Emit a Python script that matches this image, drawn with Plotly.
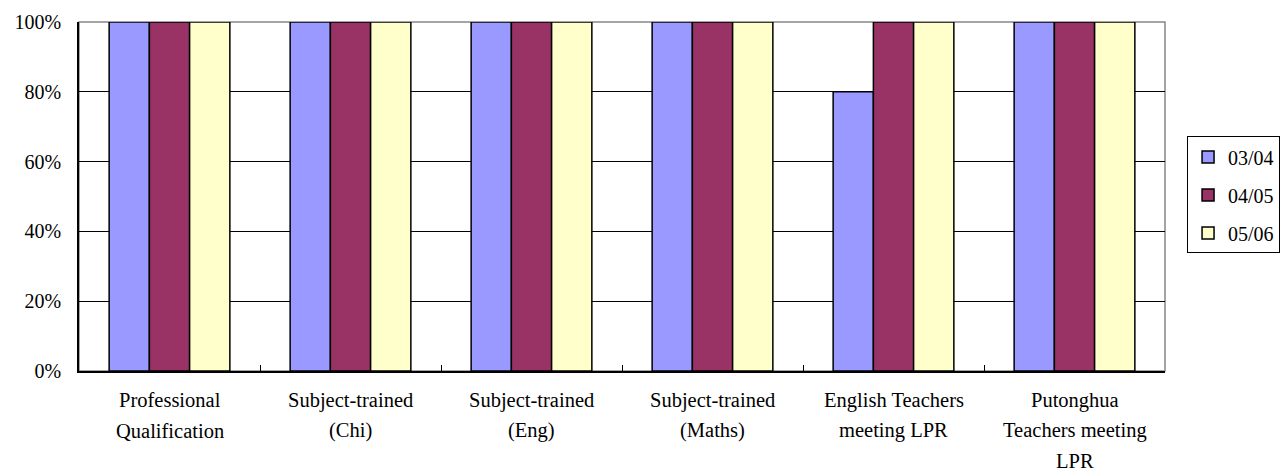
import plotly.graph_objects as go

categories = ["Professional Qualification", "Subject-trained (Chi)", "Subject-trained (Eng)",
              "Subject-trained (Maths)", "English Teachers meeting LPR",
              "Putonghua Teachers meeting LPR"]
category_lines = [
    ["Professional", "Qualification"],
    ["Subject-trained", "(Chi)"],
    ["Subject-trained", "(Eng)"],
    ["Subject-trained", "(Maths)"],
    ["English Teachers", "meeting LPR"],
    ["Putonghua", "Teachers meeting", "LPR"],
]
series_names = ["03/04", "04/05", "05/06"]
values_0304 = [100, 100, 100, 100, 80, 100]
values_0405 = [100, 100, 100, 100, 100, 100]
values_0506 = [100, 100, 100, 100, 100, 100]
y_ticks = [0, 20, 40, 60, 80, 100]
y_tick_labels = ["0%", "20%", "40%", "60%", "80%", "100%"]

colors = ["#9999FF", "#993366", "#FFFFCC"]
FONT = "Liberation Serif, Times New Roman, serif"

fig = go.Figure()
for i, (name, vals) in enumerate(zip(series_names, [values_0304, values_0405, values_0506])):
    fig.add_trace(go.Bar(
        x=categories, y=vals, name=name, legendgroup=name,
        marker=dict(color=colors[i], line=dict(color="black", width=1.5)),
    ))

annotations = []
for cat, lines in zip(categories, category_lines):
    for j, line in enumerate(lines):
        annotations.append(dict(
            x=cat, y=0, xref="x", yref="y", text=line, showarrow=False,
            yanchor="middle", xanchor="center", yshift=-(29 + 30.5 * j),
            font=dict(family=FONT, size=20.5, color="black"),
        ))

fig.update_layout(
    width=1282, height=471,
    margin=dict(l=79, r=117, t=22, b=100, autoexpand=False),
    paper_bgcolor="white", plot_bgcolor="white",
    barmode="group", bargap=0.333, bargroupgap=0,
    font=dict(family=FONT, size=20, color="black"),
    showlegend=True,
    legend=dict(
        x=1.0203, y=0.672, xanchor="left", yanchor="top",
        bordercolor="black", borderwidth=1, bgcolor="white",
        font=dict(family=FONT, size=20, color="black"),
        traceorder="grouped", tracegroupgap=9,
        itemwidth=30,
    ),
    annotations=annotations,
    shapes=[dict(type="rect", xref="paper", yref="paper", x0=0, x1=1, y0=0, y1=1,
                 line=dict(color="#888888", width=1.5), layer="between")],
)
fig.update_xaxes(
    type="category", showticklabels=False, showgrid=False,
    showline=True, linecolor="black", linewidth=1.5,
    ticks="inside", tickson="boundaries", ticklen=6, tickcolor="black", tickwidth=1,
)
fig.update_yaxes(
    range=[0, 100], tickvals=y_ticks, ticktext=y_tick_labels,
    showgrid=True, gridcolor="black", gridwidth=1,
    showline=True, linecolor="black", linewidth=1.5, zeroline=False,
    ticks="", ticklabelstandoff=12,
    tickfont=dict(family=FONT, size=20, color="black"),
)

fig.write_html("out.html", config={"displayModeBar": False})

# remove the browser's default page margin so the figure sits at the window's origin
with open("out.html", "r", encoding="utf-8") as f:
    html = f.read()
html = html.replace("<head>", "<head><style>html,body{margin:0;padding:0;overflow:hidden;}</style>", 1)
with open("out.html", "w", encoding="utf-8") as f:
    f.write(html)
